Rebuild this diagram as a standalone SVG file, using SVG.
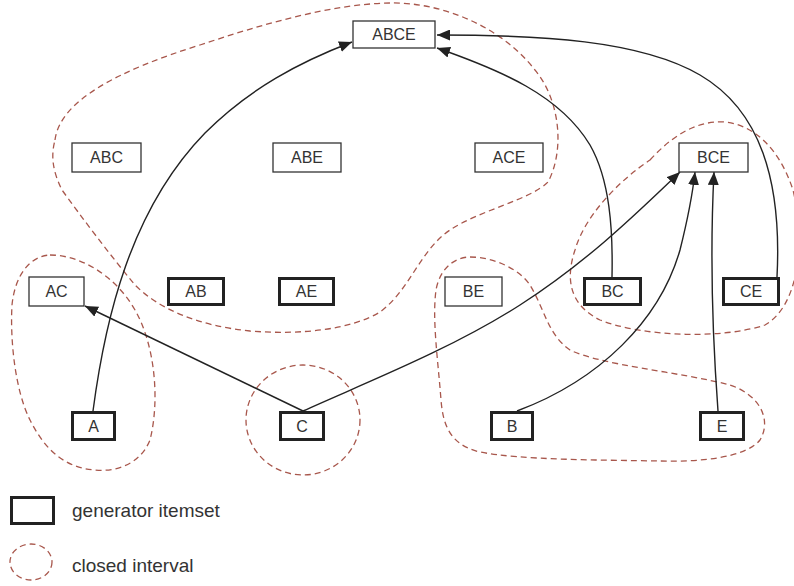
<svg xmlns="http://www.w3.org/2000/svg" width="794" height="586" viewBox="0 0 794 586">
<defs>
<style>
.n rect{fill:#fff;stroke:#333;stroke-width:1.3}
.g rect{stroke:#222;stroke-width:3}
text{font-family:"Liberation Sans",Arial,sans-serif;fill:#333;font-size:16px;text-anchor:middle}
.leg{font-size:19px;text-anchor:start}
.iv{fill:none;stroke:#a8574c;stroke-width:1.3;stroke-dasharray:6,4}
.e{fill:none;stroke:#222;stroke-width:1.4;marker-end:url(#ah)}
</style>
<marker id="ah" markerUnits="userSpaceOnUse" markerWidth="13" markerHeight="11" refX="13" refY="5.5" orient="auto">
<path d="M0,0 L13,5.5 L0,11 z" fill="#222"/>
</marker>
</defs>
<g id="intervals">
<path class="iv" d="M55,140 C 60,100 120,70 200,45 C 260,25 330,4 390,3 C 440,2 500,25 535,70 C 560,100 565,150 548,182 C 530,200 480,210 450,230 C 420,250 410,290 380,312 C 350,330 300,335 250,331 C 200,326 160,310 135,285 C 110,255 80,215 62,190 C 52,170 51,155 55,140 Z"/>
<path class="iv" d="M50,255 C 80,255 115,275 135,310 C 155,345 160,400 150,440 C 140,465 115,472 95,470 C 65,468 45,450 30,420 C 15,390 10,340 12,305 C 15,275 30,256 50,255 Z"/>
<ellipse class="iv" cx="303" cy="420" rx="57" ry="55"/>
<path class="iv" d="M470,257 C 495,257 520,270 530,285 C 545,310 548,335 570,350 C 600,365 680,372 730,385 C 760,395 772,420 760,440 C 745,458 700,462 660,461 C 600,460 520,460 480,452 C 450,445 443,425 441,400 C 438,360 432,320 436,290 C 440,268 455,257 470,257 Z"/>
<path class="iv" d="M650,160 C 670,138 695,120 725,122 C 755,125 780,150 793,190 C 805,240 800,305 765,325 C 720,340 640,336 600,320 C 570,305 565,280 575,250 C 585,215 620,180 650,160 Z"/>
</g>
<g id="connectors">
<path class="e" d="M93,411 C 105,320 130,210 205,133 C 250,88 300,62 352,42"/>
<path class="e" d="M303,411 L85,306"/>
<path class="e" d="M303,411 C 360,385 450,350 520,305 C 590,260 640,210 680,172"/>
<path class="e" d="M612,277 C 613,230 610,180 590,145 C 560,95 500,70 437,48"/>
<path class="e" d="M777,277 C 782,180 760,110 700,75 C 640,40 540,35 437,35"/>
<path class="e" d="M517,411 C 600,380 660,320 680,250 C 690,210 693,190 695,172"/>
<path class="e" d="M718,411 C 712,330 710,250 714,172"/>
</g>
<g id="ABCE" class="n"><rect x="353" y="21" width="82" height="27"/><text x="394" y="40">ABCE</text></g>
<g id="ABC" class="n"><rect x="72" y="143" width="69" height="29"/><text x="106.5" y="163">ABC</text></g>
<g id="ABE" class="n"><rect x="273" y="143" width="68" height="29"/><text x="307" y="163">ABE</text></g>
<g id="ACE" class="n"><rect x="475" y="143" width="68" height="29"/><text x="509" y="163">ACE</text></g>
<g id="BCE" class="n"><rect x="679" y="143" width="69" height="29"/><text x="713.5" y="163">BCE</text></g>
<g id="AC" class="n"><rect x="29" y="277" width="55" height="29"/><text x="56.5" y="297">AC</text></g>
<g id="AB" class="n g"><rect x="168.5" y="278.5" width="55" height="26"/><text x="196" y="297">AB</text></g>
<g id="AE" class="n g"><rect x="279.5" y="278.5" width="54" height="26"/><text x="306.5" y="297">AE</text></g>
<g id="BE" class="n"><rect x="445" y="277" width="57" height="29"/><text x="473.5" y="297">BE</text></g>
<g id="BC" class="n g"><rect x="584.5" y="278.5" width="56" height="26"/><text x="612.5" y="297">BC</text></g>
<g id="CE" class="n g"><rect x="723.5" y="278.5" width="55" height="26"/><text x="751" y="297">CE</text></g>
<g id="A" class="n g"><rect x="72.5" y="412.5" width="42" height="27"/><text x="93.5" y="432">A</text></g>
<g id="C" class="n g"><rect x="280.5" y="412.5" width="43" height="27"/><text x="302" y="432">C</text></g>
<g id="B" class="n g"><rect x="491.5" y="412.5" width="41" height="27"/><text x="512" y="432">B</text></g>
<g id="E" class="n g"><rect x="700.5" y="412.5" width="43" height="27"/><text x="722" y="432">E</text></g>
<g id="legend">
<g class="n g"><rect x="11.5" y="497.5" width="42" height="26"/></g>
<text class="leg" x="72" y="517">generator itemset</text>
<ellipse class="iv" cx="31" cy="562" rx="21" ry="18"/>
<text class="leg" x="72" y="572">closed interval</text>
</g>
</svg>
